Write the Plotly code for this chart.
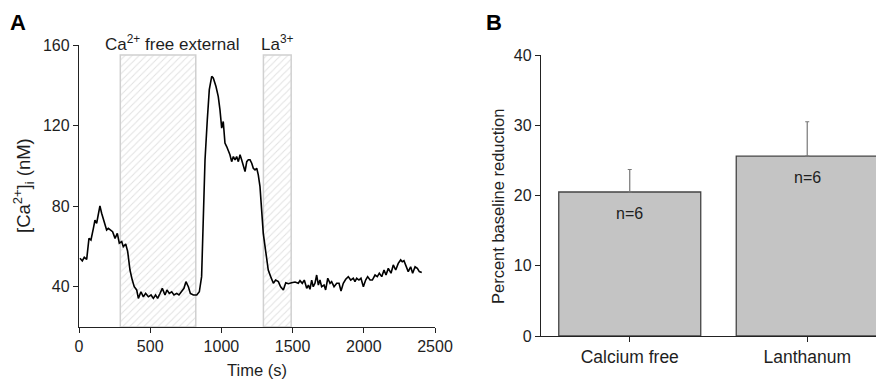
import plotly.graph_objects as go

# ---------------- Panel A data ----------------
time_s = [7, 23, 37, 54, 70, 84, 101, 112, 124, 136, 147, 159, 178, 194, 206, 222, 236, 253, 269, 283,
          300, 311, 328, 342, 358, 374, 388, 405, 417, 435, 452, 468, 487, 506, 522, 538, 552, 569, 585, 604,
          618, 634, 651, 667, 686, 702, 721, 737, 751, 768, 782, 803, 827, 845, 861, 873, 885, 901, 915, 932,
          943, 962, 978, 990, 1002, 1013, 1025, 1037, 1048, 1060, 1072, 1084, 1096, 1107, 1119, 1131, 1142, 1154, 1166, 1178,
          1189, 1201, 1213, 1224, 1236, 1248, 1259, 1271, 1283, 1294, 1313, 1329, 1346, 1365, 1381, 1400, 1416, 1435, 1452, 1470,
          1493, 1517, 1540, 1552, 1568, 1582, 1599, 1611, 1622, 1634, 1645, 1657, 1669, 1681, 1692, 1704, 1721, 1732, 1747, 1763,
          1774, 1791, 1810, 1826, 1840, 1856, 1873, 1891, 1908, 1926, 1938, 1950, 1966, 1980, 1997, 2013, 2027, 2044, 2060, 2079,
          2095, 2109, 2126, 2142, 2156, 2172, 2191, 2207, 2224, 2242, 2259, 2270, 2282, 2296, 2312, 2329, 2343, 2360, 2376, 2390, 2407]
ca_nM = [54.1, 52.8, 54.6, 53.6, 64.0, 63.2, 69.0, 73.1, 71.5, 77.3, 80.1, 76.5, 72.3, 68.2, 69.0, 68.2, 67.3, 64.0, 66.5, 61.6,
         62.4, 59.9, 61.2, 57.4, 48.3, 43.3, 40.0, 38.4, 34.2, 37.5, 35.0, 36.7, 35.0, 35.9, 34.2, 35.9, 34.2, 36.7, 39.2, 35.9,
         38.4, 36.7, 37.5, 35.9, 36.7, 35.9, 37.5, 39.2, 42.5, 40.0, 36.7, 35.9, 35.9, 37.5, 45.0, 78.1, 103.0, 122.9, 137.8, 144.4,
         143.6, 139.4, 134.4, 127.8, 118.7, 122.0, 111.3, 109.6, 107.9, 105.5, 102.1, 104.6, 103.0, 104.6, 102.1, 105.5, 103.0, 100.5, 97.2, 102.1,
         103.0, 103.0, 101.3, 98.8, 98.0, 98.8, 95.5, 89.7, 79.8, 66.5, 56.6, 48.3, 45.0, 41.7, 43.3, 42.5, 40.0, 38.4, 42.0, 41.5,
         42.0, 42.3, 41.7, 43.0, 41.7, 43.3, 39.2, 40.8, 38.7, 43.3, 40.0, 41.7, 45.8, 40.8, 43.3, 40.0, 40.8, 38.4, 44.2, 41.7,
         42.5, 40.0, 41.7, 41.7, 37.9, 41.7, 43.7, 45.0, 43.3, 44.2, 42.5, 44.2, 43.3, 44.2, 40.0, 43.3, 45.0, 43.3, 43.3, 45.8,
         45.0, 46.7, 45.0, 48.3, 45.8, 49.1, 46.7, 50.8, 48.3, 51.6, 53.3, 52.4, 52.9, 49.9, 47.5, 49.9, 46.7, 49.9, 49.1, 47.5, 47.0]

period_labels = ["Ca<sup>2+</sup> free external", "La<sup>3+</sup>"]
period_start = [290, 1295]
period_end = [820, 1490]
period_top = [155, 155]
label_x = [660, 1397]
x_ticks_A = [0, 500, 1000, 1500, 2000, 2500]
y_ticks_A = [40, 80, 120, 160]

# ---------------- Panel B data ----------------
categories = ["Calcium free", "Lanthanum"]
reduction_pct = [20.5, 25.6]
reduction_err = [3.2, 4.9]
n_labels = ["n=6", "n=6"]
y_ticks_B = [0, 10, 20, 30, 40]

FONT = "Liberation Sans, Arial, Helvetica, sans-serif"
TXT = "#1e1e1e"
OFF = 8                 # page body margin of the html output
FW, FH = 884 - OFF, 381 - OFF


def px(x):
    return (x - OFF) / FW


def py(y):
    return 1 - (y - OFF) / FH


fig = go.Figure()

# hatched treatment periods
ymin_A = 20
fig.add_trace(go.Bar(
    x=[(s + e) / 2 for s, e in zip(period_start, period_end)],
    y=[t - ymin_A for t in period_top],
    base=ymin_A,
    width=[e - s for s, e in zip(period_start, period_end)],
    marker=dict(color="white", line=dict(color="#d0d0d0", width=1.5),
                pattern=dict(shape="/", fgcolor="#c4c4c4", bgcolor="white", size=5, solidity=0.2)),
    xaxis="x", yaxis="y", showlegend=False, hoverinfo="skip",
))

fig.add_trace(go.Scatter(
    x=time_s, y=ca_nM, mode="lines",
    line=dict(color="black", width=1.6),
    xaxis="x", yaxis="y", showlegend=False,
))

fig.add_trace(go.Bar(
    x=categories, y=reduction_pct,
    width=0.8,
    marker=dict(color="#c4c4c4", line=dict(color="#444444", width=1.3)),
    error_y=dict(type="data", array=reduction_err, arrayminus=[0] * len(reduction_err),
                 symmetric=False, color="#777777", thickness=1.2, width=2),
    xaxis="x2", yaxis="y2", showlegend=False,
))

annotations = []
for lab, lx, top in zip(period_labels, label_x, period_top):
    annotations.append(dict(x=lx, y=top, xref="x", yref="y", text=lab, showarrow=False,
                            xanchor="center", yanchor="bottom", yshift=-1,
                            font=dict(size=17, color=TXT, family=FONT)))
for c, v, t in zip(categories, reduction_pct, n_labels):
    annotations.append(dict(x=c, y=v - 3, xref="x2", yref="y2", text=t, showarrow=False,
                            xanchor="center", yanchor="middle",
                            font=dict(size=16, color=TXT, family=FONT)))


def paper_text(x, y, text, size, angle=0, color=TXT):
    return dict(x=px(x), y=py(y), xref="paper", yref="paper", text=text, showarrow=False,
                xanchor="center", yanchor="middle", textangle=angle,
                font=dict(size=size, color=color, family=FONT))


annotations += [
    paper_text(18, 22, "<b>A</b>", 22, color="black"),
    paper_text(494, 22, "<b>B</b>", 22, color="black"),
    paper_text(23, 186, "[Ca<sup>2+</sup>]<sub>i</sub> (nM)", 18.5, angle=-90),
    paper_text(498, 207, "Percent baseline reduction", 16.5, angle=-90),
    paper_text(257, 370, "Time (s)", 16.5),
]

axis_common = dict(showgrid=False, zeroline=False, showline=True, linecolor="#222222", linewidth=1.3,
                   ticks="outside", ticklen=5, tickwidth=1.3, tickcolor="#222222", automargin=False,
                   tickfont=dict(size=16, color=TXT, family=FONT))

fig.update_layout(
    width=FW, height=FH,
    margin=dict(l=0, r=0, t=0, b=0, pad=0),
    paper_bgcolor="white", plot_bgcolor="white",
    barmode="overlay",
    font=dict(family=FONT),
    xaxis=dict(domain=[px(79), px(435)], range=[0, 2500], tickvals=x_ticks_A,
               anchor="y", **axis_common),
    yaxis=dict(domain=[py(327), py(45)], range=[ymin_A, 160], tickvals=y_ticks_A,
               anchor="x", **axis_common),
    xaxis2=dict(domain=[px(541), min(1.0, px(880))], range=[-0.5, 1.41], type="category",
                anchor="y2", **{**axis_common, "tickfont": dict(size=17.5, color=TXT, family=FONT)}),
    yaxis2=dict(domain=[py(336), py(55)], range=[0, 40], tickvals=y_ticks_B,
                anchor="x2", **axis_common),
    annotations=annotations,
)

fig.write_html("out.html")
